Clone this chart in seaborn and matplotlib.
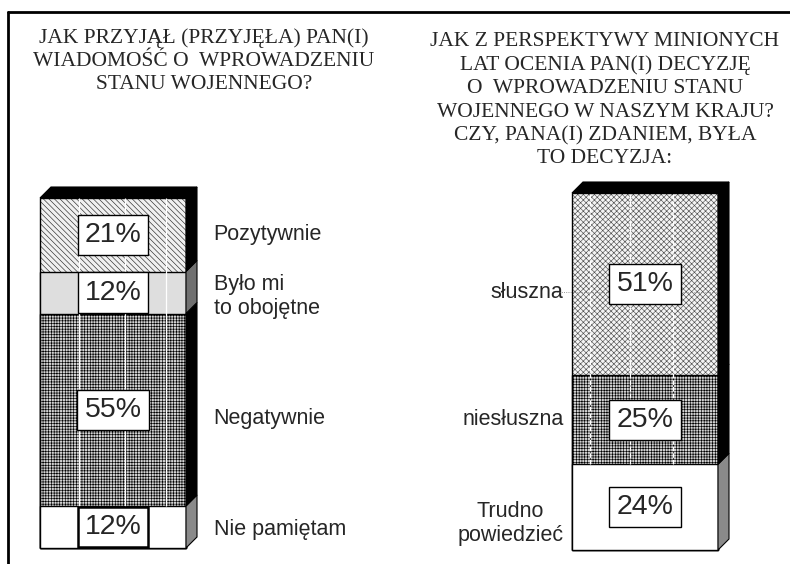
import numpy as np
import matplotlib.pyplot as plt
import seaborn as sns
from matplotlib.patches import Polygon
from matplotlib.lines import Line2D
from matplotlib.colors import to_rgba

# dane (od dołu słupka do góry)
left_title = "JAK PRZYJĄŁ (PRZYJĘŁA) PAN(I)\nWIADOMOŚĆ O  WPROWADZENIU\nSTANU WOJENNEGO?"
left_labels = ["Nie pamiętam", "Negatywnie", "Było mi\nto obojętne", "Pozytywnie"]
left_values = [12, 55, 12, 21]

right_title = ("JAK Z PERSPEKTYWY MINIONYCH\nLAT OCENIA PAN(I) DECYZJĘ\nO  WPROWADZENIU STANU\n"
               "WOJENNEGO W NASZYM KRAJU?\nCZY, PANA(I) ZDANIEM, BYŁA\nTO DECYZJA:")
right_labels = ["Trudno\npowiedzieć", "niesłuszna", "słuszna"]
right_values = [24, 25, 51]

# wygląd segmentów: (kolor, kreskowanie, kolor kreskowania, kolor boku, grubość ramki etykiety)
left_styles = [("white", "", "black", "#8a8a8a", 1.8),
               ("#d2d2d2", "++++++", "black", "black", 1.0),
               ("#dedede", "", "black", "#707070", 1.0),
               ("#f0f0f0", "\\\\\\\\\\\\", "#2a2a2a", "black", 1.0)]
right_styles = [("white", "", "black", "#8a8a8a", 1.0),
                ("#d2d2d2", "++++++", "black", "black", 1.0),
                ("#f4f4f4", "xxxxxx", "#505050", "black", 1.0)]

sns.set_style("white")
plt.rcParams["hatch.linewidth"] = 0.45
SANS = "Liberation Sans"
SERIF = "Liberation Serif"

W, H = 790, 564
fig = plt.figure(figsize=(W / 100, H / 100), dpi=100)

BAR_W = 0.8
DEPTH = 11  # px


def draw_stack(ax, values, labels, styles, side, grid_fracs, grid_ls, nudges):
    tops = np.cumsum(values)
    # najwyższy słupek najpierw, niższe go przykrywają
    for i in range(len(values) - 1, -1, -1):
        sns.barplot(x=["a"], y=[tops[i]], color=styles[i][0], width=BAR_W,
                    saturation=1, edgecolor="black", linewidth=1.0,
                    errorbar=None, ax=ax)
        p = ax.patches[-1]
        p.set_hatch(styles[i][1])
        if hasattr(p, "set_hatchcolor"):
            p.set_hatchcolor(styles[i][2])
        else:
            p._hatch_color = to_rgba(styles[i][2])
        p.set_zorder(2)
        p.set_clip_on(False)
    ax.set_xlim(-BAR_W / 2, BAR_W / 2)
    ax.set_ylim(0, 100)
    ax.set_axis_off()

    bb = ax.get_window_extent()
    dx = DEPTH / bb.width * BAR_W
    dy = DEPTH / bb.height * 100
    xl, xr = -BAR_W / 2, BAR_W / 2

    # białe linie siatki na kreskowaniu
    hatched_bottom = values[0]
    for f in grid_fracs:
        ax.vlines(xl + f * BAR_W, hatched_bottom, 100, color="white",
                  lw=0.9, ls=grid_ls, zorder=3)

    bottoms = tops - np.array(values)
    for i, (b, t) in enumerate(zip(bottoms, tops)):
        ax.add_patch(Polygon([(xr, b), (xr + dx, b + dy), (xr + dx, t + dy), (xr, t)],
                             closed=True, fc=styles[i][3], ec="black", lw=0.8,
                             clip_on=False, zorder=2))
    ax.add_patch(Polygon([(xl, 100), (xl + dx, 100 + dy), (xr + dx, 100 + dy), (xr, 100)],
                         closed=True, fc="black", ec="black", lw=0.8,
                         clip_on=False, zorder=2))

    for i, (b, t) in enumerate(zip(bottoms, tops)):
        mid = (b + t) / 2
        ax.text(0, mid, f"{values[i]}%", ha="center", va="center", fontsize=20.5,
                family=SANS, zorder=6,
                bbox=dict(boxstyle="square,pad=0.25", fc="white", ec="black",
                          lw=styles[i][4]))
        if side == "right":
            ax.annotate(labels[i], xy=(xr + dx, mid), xytext=(12, nudges[i]),
                        textcoords="offset points", ha="left", va="center",
                        fontsize=15.5, family=SANS, annotation_clip=False)
        else:
            ax.annotate(labels[i], xy=(xl, mid), xytext=(-6, nudges[i]),
                        textcoords="offset points", ha="right", va="center",
                        multialignment="center", fontsize=15.5, family=SANS,
                        annotation_clip=False)


ax_l = fig.add_axes([40 / W, 1 - 548 / H, 146 / W, 350 / H])
ax_r = fig.add_axes([572 / W, 1 - 550 / H, 146 / W, 357 / H])

draw_stack(ax_l, left_values, left_labels, left_styles, "right",
           [0.27, 0.58, 0.86], "-", [-2, -6, -3, 0])
draw_stack(ax_r, right_values, right_labels, right_styles, "left",
           [0.12, 0.40, 0.69], "--", [-12, 0, -6])

# kropkowana linia przy "słuszna"
s_mid = right_values[0] + right_values[1] + right_values[2] / 2
ax_r.axhline(s_mid - 6 / 357 * 100 / 0.72, xmin=-0.1, xmax=1.0, color="#777777",
             lw=0.6, ls=":", zorder=4, clip_on=False)

fig.text(204 / W, 1 - 28 / H, left_title, ha="center", va="top", fontsize=15.5,
         family=SERIF, linespacing=1.3)
fig.text(605 / W, 1 - 32 / H, right_title, ha="center", va="top", fontsize=15.5,
         family=SERIF, linespacing=1.3)

# ramka
fig.add_artist(Line2D([8 / W, 8 / W], [0, 1 - 12 / H], color="black", lw=2))
fig.add_artist(Line2D([8 / W, 1], [1 - 12 / H, 1 - 12 / H], color="black", lw=2))

fig.savefig("out.png", dpi=100)
